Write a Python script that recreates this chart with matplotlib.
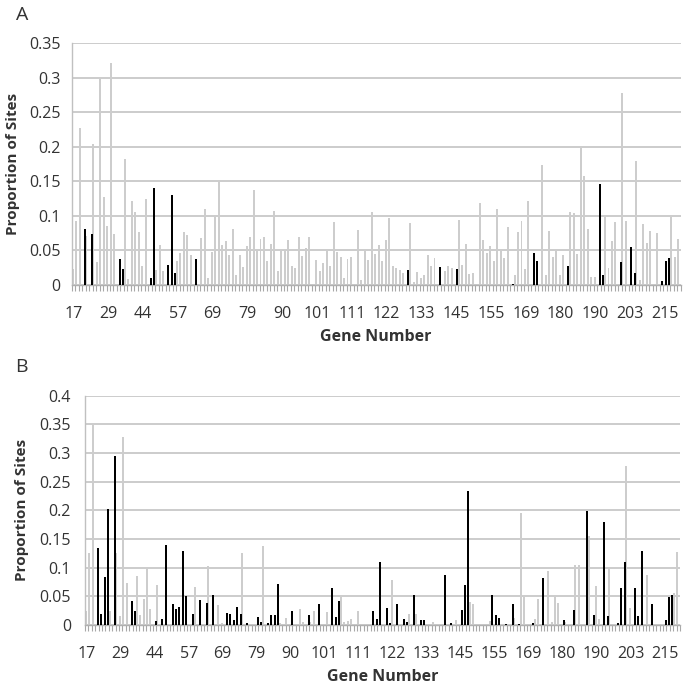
import matplotlib.pyplot as plt
import numpy as np

# gene labels shown on the category axis (every 10th category)
gene_labels = [17, 29, 44, 57, 69, 79, 90, 101, 111, 122, 133, 145, 155, 169, 180, 190, 203, 215]
label_step = 10

# panel A, proportion of sites per gene (grey series / black series)
a_gray = [
    0.023, 0.092, 0.227, 0, 0.071, 0, 0.204, 0.033, 0.298, 0.127,
    0.085, 0.321, 0.074, 0, 0, 0.182, 0.008, 0.122, 0.105, 0.076,
    0.028, 0.125, 0, 0, 0.021, 0.058, 0.02, 0, 0, 0,
    0.035, 0.046, 0.077, 0.072, 0.043, 0, 0, 0.068, 0.11, 0.01,
    0.048, 0.101, 0.15, 0.058, 0.064, 0.044, 0.081, 0.014, 0.044, 0.026,
    0.057, 0.07, 0.137, 0.05, 0.067, 0.069, 0.034, 0.059, 0.107, 0.02,
    0.05, 0.05, 0.065, 0.028, 0.025, 0.07, 0.042, 0.054, 0.07, 0,
    0.036, 0.02, 0.032, 0.049, 0.027, 0.091, 0.048, 0.04, 0.01, 0.038,
    0.04, 0, 0.08, 0.007, 0.049, 0.036, 0.106, 0.045, 0.058, 0.035,
    0.065, 0.097, 0.028, 0.024, 0.022, 0.018, 0, 0.09, 0.005, 0.019,
    0.01, 0.014, 0.043, 0.027, 0.039, 0, 0, 0.02, 0.028, 0.024,
    0, 0.094, 0.029, 0.06, 0.016, 0.018, 0, 0.118, 0.065, 0.047,
    0.056, 0.035, 0.11, 0.05, 0.039, 0.084, 0, 0.014, 0.076, 0.093,
    0.023, 0.121, 0, 0, 0, 0.173, 0.014, 0.078, 0.04, 0.052,
    0.014, 0.043, 0, 0.106, 0.104, 0.045, 0.199, 0.157, 0.081, 0.011,
    0.011, 0, 0, 0.099, 0.024, 0.064, 0.091, 0, 0.277, 0.093,
    0, 0, 0.179, 0.007, 0.088, 0.061, 0.078, 0, 0.075, 0,
    0, 0, 0.1, 0.041, 0.067,
]
a_black = [
    0, 0, 0, 0.081, 0, 0.074, 0, 0, 0, 0,
    0, 0, 0, 0.038, 0.023, 0, 0, 0, 0, 0,
    0, 0, 0.01, 0.14, 0, 0, 0, 0.029, 0.13, 0.017,
    0, 0, 0, 0, 0, 0.037, 0, 0, 0, 0,
    0, 0, 0, 0, 0, 0, 0, 0, 0, 0,
    0, 0, 0, 0, 0, 0, 0, 0, 0, 0,
    0, 0, 0, 0, 0, 0, 0, 0, 0, 0,
    0, 0, 0, 0, 0, 0, 0, 0, 0, 0,
    0, 0, 0, 0, 0, 0, 0, 0, 0, 0,
    0, 0, 0, 0, 0, 0, 0.022, 0, 0, 0,
    0, 0, 0, 0, 0, 0.026, 0, 0, 0, 0,
    0.023, 0, 0, 0, 0, 0, 0, 0, 0, 0,
    0, 0, 0, 0, 0, 0, 0.002, 0, 0, 0,
    0, 0, 0.046, 0.034, 0, 0, 0, 0, 0, 0,
    0, 0, 0.027, 0, 0, 0, 0, 0, 0, 0,
    0, 0.146, 0.014, 0, 0, 0, 0, 0.033, 0, 0,
    0.055, 0.017, 0, 0, 0, 0, 0, 0, 0, 0.006,
    0.035, 0.039, 0, 0, 0,
]

# panel B
b_gray = [
    0.025, 0.125, 0.352, 0, 0, 0, 0, 0.025, 0, 0.125,
    0.016, 0.328, 0.073, 0, 0, 0.086, 0.018, 0.046, 0.1, 0.028,
    0, 0.069, 0, 0, 0, 0, 0, 0, 0, 0,
    0, 0, 0.066, 0, 0, 0, 0.103, 0, 0, 0.035,
    0.003, 0, 0, 0, 0, 0, 0.125, 0, 0, 0,
    0, 0, 0.137, 0, 0, 0, 0, 0.003, 0, 0.012,
    0, 0, 0, 0.028, 0.005, 0, 0.005, 0.025, 0, 0,
    0, 0.022, 0, 0, 0, 0.052, 0.005, 0.007, 0.01, 0,
    0.024, 0, 0, 0, 0, 0, 0, 0, 0, 0,
    0.078, 0, 0, 0, 0, 0.02, 0, 0.02, 0, 0,
    0, 0, 0.005, 0, 0, 0, 0, 0, 0, 0.008,
    0, 0, 0, 0.04, 0.037, 0, 0, 0, 0, 0.007,
    0, 0, 0, 0, 0, 0, 0.012, 0, 0.195, 0.05,
    0, 0, 0.01, 0.045, 0, 0, 0.095, 0.005, 0.052, 0.038,
    0, 0.006, 0, 0, 0.105, 0.104, 0, 0, 0.156, 0,
    0.068, 0.01, 0, 0, 0.1, 0, 0, 0, 0, 0.277,
    0.03, 0, 0, 0, 0, 0.088, 0, 0, 0, 0,
    0, 0, 0, 0.055, 0.127,
]
b_black = [
    0, 0, 0, 0.135, 0.019, 0.083, 0.203, 0, 0.295, 0,
    0, 0, 0, 0.041, 0.024, 0, 0, 0, 0, 0,
    0.007, 0, 0.01, 0.14, 0, 0.037, 0.028, 0.031, 0.129, 0.05,
    0, 0.019, 0, 0.044, 0, 0.038, 0, 0.052, 0, 0,
    0, 0.021, 0.019, 0.009, 0.032, 0.02, 0, 0.004, 0, 0,
    0.014, 0.006, 0, 0.003, 0.018, 0.018, 0.071, 0, 0, 0,
    0.024, 0, 0, 0, 0, 0.017, 0, 0, 0.037, 0,
    0, 0, 0.065, 0.014, 0.042, 0, 0, 0, 0, 0,
    0, 0, 0, 0, 0.025, 0.01, 0.11, 0, 0.03, 0.004,
    0, 0.037, 0, 0.01, 0.006, 0, 0.052, 0, 0.009, 0.009,
    0, 0, 0, 0, 0, 0.087, 0, 0.003, 0, 0,
    0.027, 0.07, 0.233, 0, 0, 0, 0, 0, 0, 0.052,
    0.017, 0.013, 0, 0.002, 0, 0.037, 0, 0.001, 0, 0,
    0, 0.004, 0, 0, 0.082, 0, 0, 0, 0, 0,
    0.008, 0, 0, 0.027, 0, 0, 0, 0.198, 0, 0.018,
    0, 0, 0.18, 0.015, 0, 0, 0.003, 0.065, 0.11, 0,
    0, 0.064, 0.015, 0.129, 0, 0, 0.036, 0, 0, 0,
    0.008, 0.048, 0.052, 0, 0,
]

GRAY = '#cdcdcd'
GRID = '#c4c4c4'
TXT = '#333333'
FONT = 'Open Sans'


def draw_panel(ax, gray, black, ymax, ypad, ylab_x, xlab_y):
    n = len(gray)
    x = np.arange(n)
    off = 0.25
    ax.bar(x - off, gray, width=0.56, color=GRAY, linewidth=0, zorder=2)
    ax.bar(x + off, black, width=0.58, color='black', linewidth=0, zorder=3)

    ax.set_xlim(-0.5, n - 0.5)
    ax.set_ylim(0, ymax)
    yt = np.arange(0, ymax + 0.001, 0.05)
    ax.set_yticks(yt)
    ax.set_yticklabels([f'{v:g}' for v in yt], fontsize=11.5, color=TXT, family=FONT)
    ax.yaxis.grid(True, color=GRID, linewidth=1.2, zorder=0)
    ax.set_axisbelow(True)

    ax.set_xticks(np.arange(0, n, label_step)[:len(gene_labels)])
    ax.set_xticklabels(gene_labels, fontsize=11.5, color=TXT, family=FONT)
    ax.set_xticks(np.arange(-0.5, n, 1), minor=True)
    ax.tick_params(axis='x', which='major', length=0, pad=15)
    ax.tick_params(axis='x', which='minor', length=4, color='#a8a8a8', width=0.8)
    ax.tick_params(axis='y', length=0, pad=ypad)

    for s in ('top', 'right'):
        ax.spines[s].set_visible(False)
    ax.spines['left'].set_color('#c0c0c0')
    ax.spines['bottom'].set_color('#b0b0b0')
    ax.spines['left'].set_linewidth(1.0)
    ax.spines['bottom'].set_linewidth(1.0)

    ax.set_ylabel('Proportion of Sites', fontsize=11, fontweight='bold', color=TXT, family=FONT)
    ax.yaxis.set_label_coords(ylab_x, 0.5)
    ax.set_xlabel('Gene Number', fontsize=11.5, fontweight='bold', color=TXT, family=FONT)
    ax.xaxis.set_label_coords(0.5, xlab_y)


fig = plt.figure(figsize=(6.85, 6.85), dpi=100)

ax_a = fig.add_axes([71.7 / 685, 1 - 285 / 685, 609 / 685, 242 / 685])
draw_panel(ax_a, a_gray, a_black, 0.35, 8, -0.085, -0.18)

ax_b = fig.add_axes([85 / 685, 1 - 625 / 685, 595 / 685, 229.3 / 685])
draw_panel(ax_b, b_gray, b_black, 0.4, 10, -0.094, -0.19)

fig.text(22 / 685, 1 - 15 / 685, 'A', fontsize=14, color=TXT, family=FONT, ha='center', va='center')
fig.text(21 / 685, 1 - 367 / 685, 'B', fontsize=14, color=TXT, family=FONT, ha='center', va='center')

fig.savefig('out.png', dpi=100)
